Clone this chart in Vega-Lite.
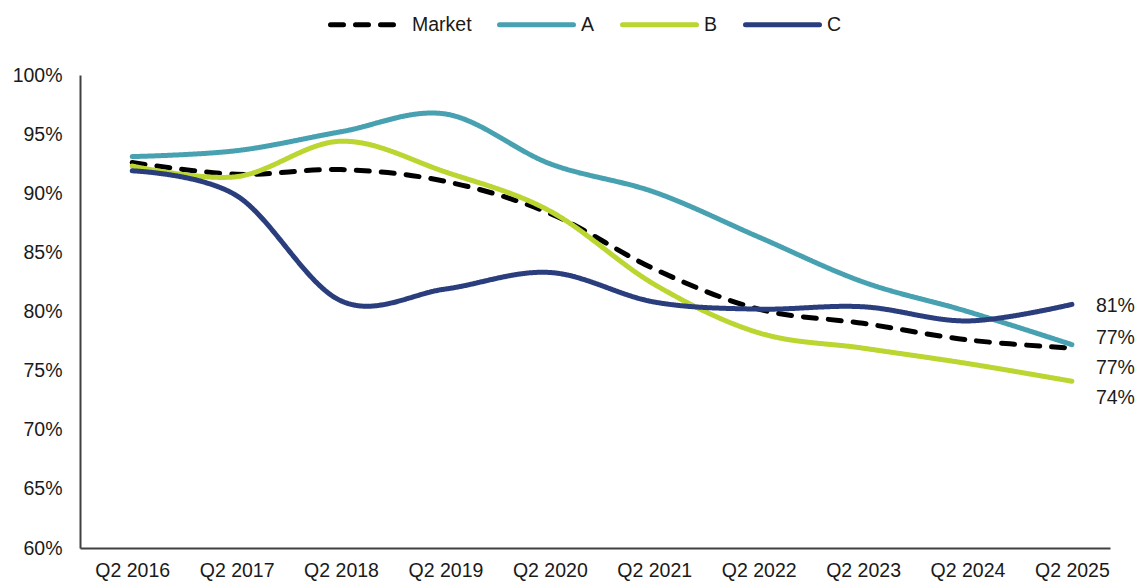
{
  "$schema": "https://vega.github.io/schema/vega-lite/v6.json",
  "width": 1030,
  "height": 473,
  "autosize": {"type": "none"},
  "padding": {"left": 80, "top": 75, "right": 35, "bottom": 37},
  "config": {"view": {"stroke": null}, "font": "Liberation Sans"},
  "data": {"values": [
    {"year": 2016, "series": "Market", "value": 0.926},
    {"year": 2017, "series": "Market", "value": 0.916},
    {"year": 2018, "series": "Market", "value": 0.920},
    {"year": 2019, "series": "Market", "value": 0.910},
    {"year": 2020, "series": "Market", "value": 0.883},
    {"year": 2021, "series": "Market", "value": 0.836},
    {"year": 2022, "series": "Market", "value": 0.802},
    {"year": 2023, "series": "Market", "value": 0.790},
    {"year": 2024, "series": "Market", "value": 0.776},
    {"year": 2025, "series": "Market", "value": 0.769},
    {"year": 2016, "series": "A", "value": 0.931},
    {"year": 2017, "series": "A", "value": 0.936},
    {"year": 2018, "series": "A", "value": 0.952},
    {"year": 2019, "series": "A", "value": 0.967},
    {"year": 2020, "series": "A", "value": 0.925},
    {"year": 2021, "series": "A", "value": 0.901},
    {"year": 2022, "series": "A", "value": 0.863},
    {"year": 2023, "series": "A", "value": 0.825},
    {"year": 2024, "series": "A", "value": 0.800},
    {"year": 2025, "series": "A", "value": 0.772},
    {"year": 2016, "series": "B", "value": 0.923},
    {"year": 2017, "series": "B", "value": 0.914},
    {"year": 2018, "series": "B", "value": 0.944},
    {"year": 2019, "series": "B", "value": 0.918},
    {"year": 2020, "series": "B", "value": 0.885},
    {"year": 2021, "series": "B", "value": 0.823},
    {"year": 2022, "series": "B", "value": 0.782},
    {"year": 2023, "series": "B", "value": 0.769},
    {"year": 2024, "series": "B", "value": 0.756},
    {"year": 2025, "series": "B", "value": 0.741},
    {"year": 2016, "series": "C", "value": 0.919},
    {"year": 2017, "series": "C", "value": 0.898},
    {"year": 2018, "series": "C", "value": 0.809},
    {"year": 2019, "series": "C", "value": 0.819},
    {"year": 2020, "series": "C", "value": 0.833},
    {"year": 2021, "series": "C", "value": 0.808},
    {"year": 2022, "series": "C", "value": 0.802},
    {"year": 2023, "series": "C", "value": 0.804},
    {"year": 2024, "series": "C", "value": 0.792},
    {"year": 2025, "series": "C", "value": 0.806}
  ]},
  "encoding": {
    "x": {
      "field": "year", "type": "quantitative",
      "scale": {"domain": [2015.5, 2025.365], "nice": false, "zero": false},
      "axis": {
        "title": null, "grid": false, "ticks": false,
        "values": [2016, 2017, 2018, 2019, 2020, 2021, 2022, 2023, 2024, 2025],
        "labelExpr": "'Q2 ' + datum.value",
        "labelFontSize": 19.5, "labelColor": "#1a1a1a", "labelPadding": 13,
        "domainColor": "#404040", "domainWidth": 2
      }
    },
    "y": {
      "field": "value", "type": "quantitative",
      "scale": {"domain": [0.6, 1.0], "nice": false, "zero": false},
      "axis": {
        "title": null, "grid": false, "ticks": false, "format": ".0%",
        "values": [0.6, 0.65, 0.7, 0.75, 0.8, 0.85, 0.9, 0.95, 1.0],
        "labelFontSize": 19.5, "labelColor": "#1a1a1a", "labelPadding": 18,
        "domainColor": "#404040", "domainWidth": 2
      }
    }
  },
  "layer": [
    {
      "mark": {"type": "line", "interpolate": "cardinal", "strokeWidth": 5, "strokeCap": "round"},
      "encoding": {
        "color": {
          "field": "series", "type": "nominal",
          "scale": {"domain": ["Market", "A", "B", "C"], "range": ["#000000", "#47A1B1", "#BBD531", "#2A3D7C"]},
          "legend": {
            "title": null, "orient": "none", "direction": "horizontal",
            "legendX": 248, "legendY": -90,
            "symbolType": "stroke", "symbolSize": 5476, "symbolStrokeWidth": 5,
            "labelFontSize": 19.5, "labelColor": "#1a1a1a", "labelOffset": 5,
            "columnPadding": 17, "padding": 0,
            "encode": {"symbols": {"update": {"strokeCap": {"value": "round"}}}}
          }
        },
        "strokeDash": {
          "field": "series", "type": "nominal",
          "scale": {"domain": ["Market", "A", "B", "C"], "range": [[13, 12], [1, 0], [1, 0], [1, 0]]},
          "legend": null
        }
      }
    },
    {
      "transform": [{"filter": "datum.year == 2025 && datum.series == 'C'"}],
      "mark": {"type": "text", "align": "left", "baseline": "middle", "dx": 24, "dy": 2, "fontSize": 19.5, "color": "#1a1a1a"},
      "encoding": {"text": {"field": "value", "type": "quantitative", "format": ".0%"}}
    },
    {
      "transform": [{"filter": "datum.year == 2025 && datum.series == 'A'"}],
      "mark": {"type": "text", "align": "left", "baseline": "middle", "dx": 24, "dy": -7, "fontSize": 19.5, "color": "#1a1a1a"},
      "encoding": {"text": {"field": "value", "type": "quantitative", "format": ".0%"}}
    },
    {
      "transform": [{"filter": "datum.year == 2025 && datum.series == 'Market'"}],
      "mark": {"type": "text", "align": "left", "baseline": "middle", "dx": 24, "dy": 20, "fontSize": 19.5, "color": "#1a1a1a"},
      "encoding": {"text": {"field": "value", "type": "quantitative", "format": ".0%"}}
    },
    {
      "transform": [{"filter": "datum.year == 2025 && datum.series == 'B'"}],
      "mark": {"type": "text", "align": "left", "baseline": "middle", "dx": 24, "dy": 17, "fontSize": 19.5, "color": "#1a1a1a"},
      "encoding": {"text": {"field": "value", "type": "quantitative", "format": ".0%"}}
    }
  ]
}
